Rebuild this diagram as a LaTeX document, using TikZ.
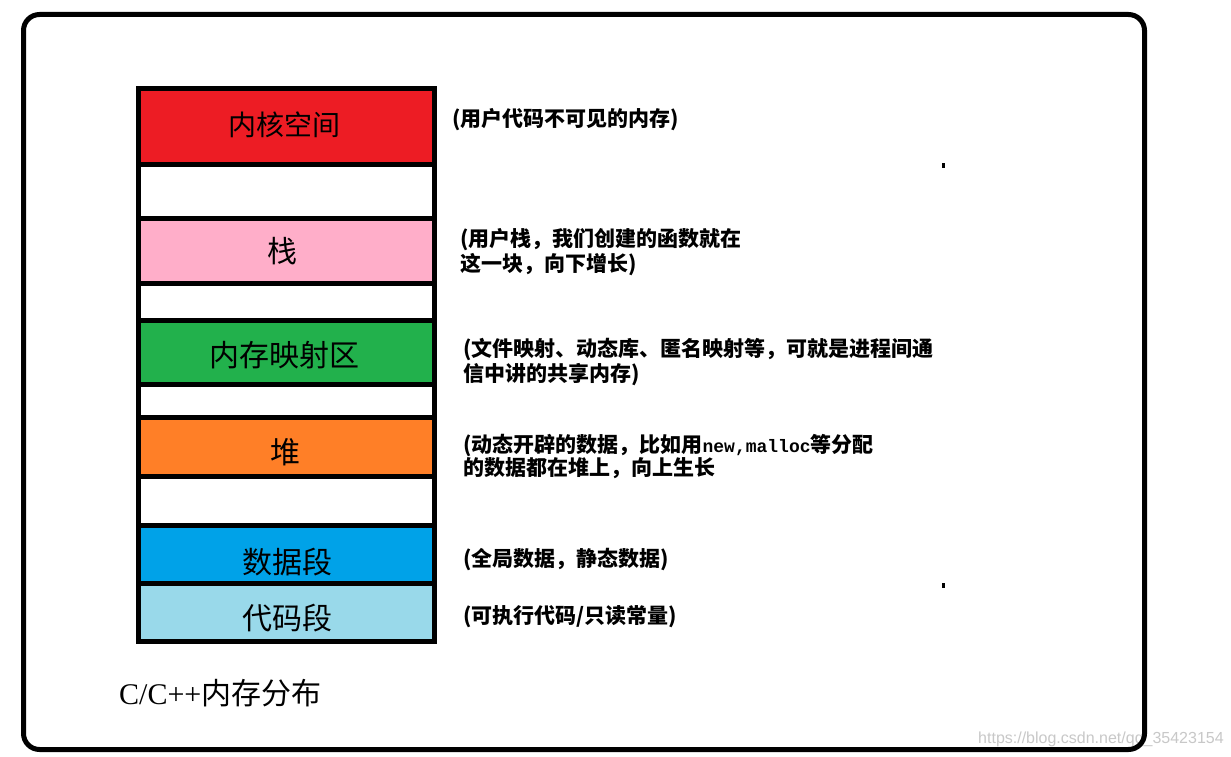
\documentclass[tikz,border=0pt]{standalone}
\usepackage{fontspec}
\newfontfamily\cjk{Noto Sans CJK SC}
\newfontfamily\latserif{Liberation Serif}
\newfontfamily\latmono{Liberation Mono}
\newfontfamily\latsans{Liberation Sans}
\definecolor{kred}{HTML}{ED1C24}
\definecolor{kpink}{HTML}{FFAEC9}
\definecolor{kgreen}{HTML}{22B14C}
\definecolor{korange}{HTML}{FF7F27}
\definecolor{kblue}{HTML}{00A2E8}
\definecolor{klblue}{HTML}{99D9EA}
\definecolor{wmark}{HTML}{C8C8C8}
\begin{document}
\begin{tikzpicture}[x=1pt,y=-1pt,
  seg/.style={draw=black, line width=5pt, minimum width=296pt, inner sep=0pt, outer sep=0pt},
  lbl/.style={font=\cjk\fontsize{30}{30}\selectfont, inner sep=0pt},
  note/.style={font=\cjk\bfseries\fontsize{21}{25}\selectfont, anchor=west, align=left, inner sep=0pt}]
\useasboundingbox (0,0) rectangle (1231,757);
\fill[white] (0,0) rectangle (1231,757);
% watermark
\node[font=\latsans\fontsize{16}{16}\selectfont, text=wmark, anchor=west, inner sep=0pt] (wm) at (978,739) {https://blog.csdn.net/qq\_35423154};
% outer frame
\draw[line width=5pt, rounded corners=16pt] (23.5,14.5) rectangle (1144.5,749.5);
% memory segments
\node[seg, fill=kred, minimum height=76pt] (kern) at (286.5,126.5) {};
\node[seg, fill=white, minimum height=54pt] (gap1) at (286.5,191.5) {};
\node[seg, fill=kpink, minimum height=65pt] (stack) at (286.5,251) {};
\node[seg, fill=white, minimum height=37pt] (gap2) at (286.5,302) {};
\node[seg, fill=kgreen, minimum height=64pt] (mmap) at (286.5,352.5) {};
\node[seg, fill=white, minimum height=33pt] (gap3) at (286.5,401) {};
\node[seg, fill=korange, minimum height=59pt] (heap) at (286.5,447) {};
\node[seg, fill=white, minimum height=49pt] (gap4) at (286.5,501) {};
\node[seg, fill=kblue, minimum height=58pt] (data) at (286.5,554.5) {};
\node[seg, fill=klblue, minimum height=58pt] (code) at (286.5,612.5) {};
% segment labels
\node[lbl, font=\cjk\fontsize{28}{28}\selectfont] (tkern) at (284,125) {内核空间};
\node[lbl] (tstack) at (282.5,251) {栈};
\node[lbl] (tmmap) at (284,355) {内存映射区};
\node[lbl] (theap) at (285,452) {堆};
\node[lbl] (tdata) at (287.5,562) {数据段};
\node[lbl] (tcode) at (287.5,618) {代码段};
% notes
\node[note] (nkern) at (452,120) {(用户代码不可见的内存)};
\node[note] (nstack) at (460,252.5) {(用户栈，我们创建的函数就在\\这一块，向下增长)};
\node[note] (nmmap) at (463,362.5) {(文件映射、动态库、匿名映射等，可就是进程间通\\信中讲的共享内存)};
\node[note, font=\cjk\bfseries\fontsize{21}{23}\selectfont] (nheap) at (463,456.5) {(动态开辟的数据，比如用{\latmono\fontsize{18}{18}\selectfont new,malloc}等分配\\的数据都在堆上，向上生长};
\node[note] (ndata) at (463,560) {(全局数据，静态数据)};
\node[note] (ncode) at (463,617) {(可执行代码/只读常量)};
% title
\node[anchor=west, inner sep=0pt, font=\fontsize{30}{30}\selectfont] (title) at (119,693) {{\latserif C/C++}{\cjk 内存分布}};
% tiny marks
\fill (942,163) rectangle (944.5,168);
\fill (942,583) rectangle (944.5,588);
\end{tikzpicture}
\end{document}
